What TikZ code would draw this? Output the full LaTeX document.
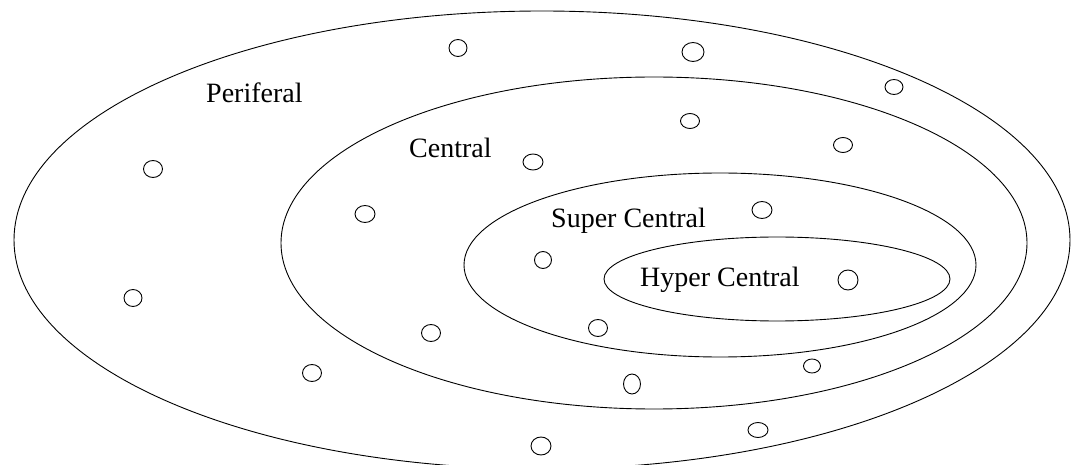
\documentclass[tikz,border=0pt]{standalone}
\usepackage{fontspec}
\setmainfont{Liberation Serif}
\begin{document}
\begin{tikzpicture}[x=1pt,y=-1pt,
  ring/.style={draw=black, line width=0.9pt},
  dot/.style={draw=black, line width=0.9pt},
  lbl/.style={anchor=base west, inner sep=0pt, font=\fontsize{28}{32}\selectfont}]
\useasboundingbox[fill=white] (0,0) rectangle (1080,465);
% rings
\draw[ring] (542,240) ellipse [x radius=528pt, y radius=229pt];
\draw[ring] (654,243) ellipse [x radius=373pt, y radius=166pt];
\draw[ring] (720,265) ellipse [x radius=256pt, y radius=92pt];
\draw[ring] (777,279) ellipse [x radius=173pt, y radius=42pt];
% labels
\node[lbl] (peri) at (206,103) {Periferal};
\node[lbl] (cent) at (409,158) {Central};
\node[lbl] (super) at (551,228) {Super Central};
\node[lbl] (hyper) at (640,287) {Hyper Central};
% small circles
\foreach \px/\py/\rx/\ry in {
  458/48/9/8.5, 693/52/11/9.5, 894/87/9/7.5, 153/169/9.5/8.5,
  533/162/10/8, 690/121/9.5/7.5, 843/145/9.5/7.5, 365/214/10/8.5,
  762/210/10/8.5, 543/260/8.5/8.5, 848/280/10/10, 133/298/9/8.5,
  598/328/9.5/8.5, 431/333/9.5/8.5, 812/366/8.5/7, 312/373/9.5/8.5,
  632/384/8.5/10, 758/430/10/7.5, 541/446/10/9}
  \draw[dot] (\px,\py) ellipse [x radius=\rx pt, y radius=\ry pt];
\end{tikzpicture}
\end{document}
